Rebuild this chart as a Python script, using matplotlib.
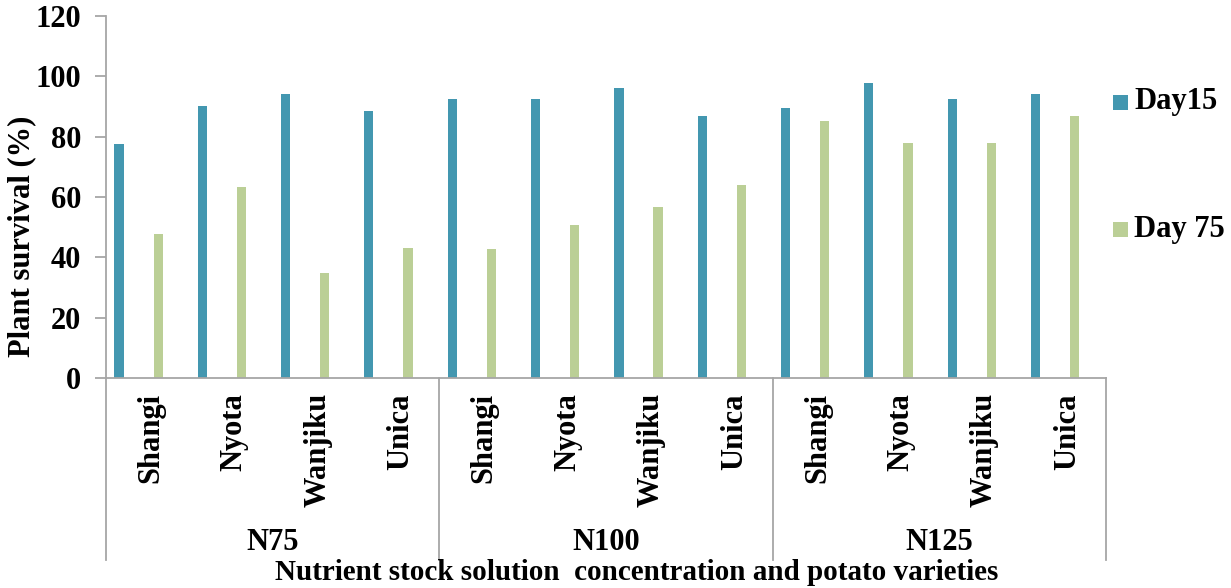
import matplotlib
matplotlib.use("Agg")
import matplotlib.pyplot as plt
import matplotlib.transforms as mtransforms
from matplotlib.patches import Rectangle
import numpy as np

# Survival data (%) by nutrient concentration and potato variety
concentrations = ["N75", "N100", "N125"]
varieties = ["Shangi", "Nyota", "Wanjiku", "Unica"]
day15 = [77.5, 90.3, 94.0, 88.6,
         92.4, 92.4, 96.2, 86.9,
         89.4, 97.9, 92.4, 94.0]
day75 = [47.7, 63.4, 34.9, 43.1,
         42.7, 50.7, 56.7, 63.9,
         85.2, 77.9, 77.9, 86.9]
y_ticks = [0, 20, 40, 60, 80, 100, 120]
series_names = ["Day15", "Day 75"]

c15 = "#4397B0"
c75 = "#BBCF96"
axis_grey = "#A6A6A6"
font = "Liberation Serif"
fs = 22

plt.rcParams["font.family"] = font
plt.rcParams["font.weight"] = "bold"

W, H = 1231, 588
fig = plt.figure(figsize=(W / 100, H / 100), dpi=100)
ax = fig.add_axes([106 / W, 1 - 378 / H, 1000 / W, 362 / H])

n = len(day15)
x = np.arange(n)
bw = 0.11
ax.bar(x - 0.345, day15, width=bw, color=c15, edgecolor="none")
ax.bar(x + 0.125, day75, width=bw, color=c75, edgecolor="none")

ax.set_xlim(-0.5, n - 0.5)
ax.set_ylim(0, 120)
ax.set_yticks(y_ticks)
ax.set_yticklabels([str(t) for t in y_ticks], fontsize=fs, fontweight="bold")
ax.set_xticks([])
for s in ["top", "right"]:
    ax.spines[s].set_visible(False)
for s in ["left", "bottom"]:
    ax.spines[s].set_color(axis_grey)
    ax.spines[s].set_linewidth(1.3)
ax.tick_params(axis="y", length=8, width=1.3, color=axis_grey, pad=10)

# Multi-level category axis: variety names, group dividers, group names
blend = mtransforms.blended_transform_factory(ax.transData, fig.transFigure)
for i in range(n):
    ax.text(i + 0.04, 1 - 393 / H, varieties[i % len(varieties)],
            transform=blend, rotation=90, ha="center", va="top",
            fontsize=fs, fontweight="bold", clip_on=False)

n_var = len(varieties)
for g in range(len(concentrations) + 1):
    xb = g * n_var - 0.5
    ax.plot([xb, xb], [1 - 378 / H, 1 - 560 / H], transform=blend,
            color=axis_grey, lw=1.3, clip_on=False)
for g, name in enumerate(concentrations):
    ax.text(g * n_var + (n_var - 1) / 2, 1 - 543 / H, name, transform=blend,
            ha="center", va="center", fontsize=fs, fontweight="bold",
            clip_on=False)

fig.text(637 / W, 1 - 573 / H,
         "Nutrient stock solution  concentration and potato varieties",
         ha="center", va="center", fontsize=21, fontweight="bold")
fig.text(22 / W, 1 - 236 / H, "Plant survival (%)", rotation=90,
         ha="center", va="center", fontsize=fs, fontweight="bold")

# Legend: coloured squares with series names
for colour, name, yc in zip([c15, c75], series_names, [102, 229]):
    fig.patches.append(Rectangle((1113 / W, 1 - (yc + 7.5) / H), 15 / W, 15 / H,
                                 transform=fig.transFigure, facecolor=colour,
                                 edgecolor="none"))
    fig.text(1134 / W, 1 - yc / H, name, ha="left", va="center",
             fontsize=fs, fontweight="bold")

fig.savefig("out.png", dpi=100)
